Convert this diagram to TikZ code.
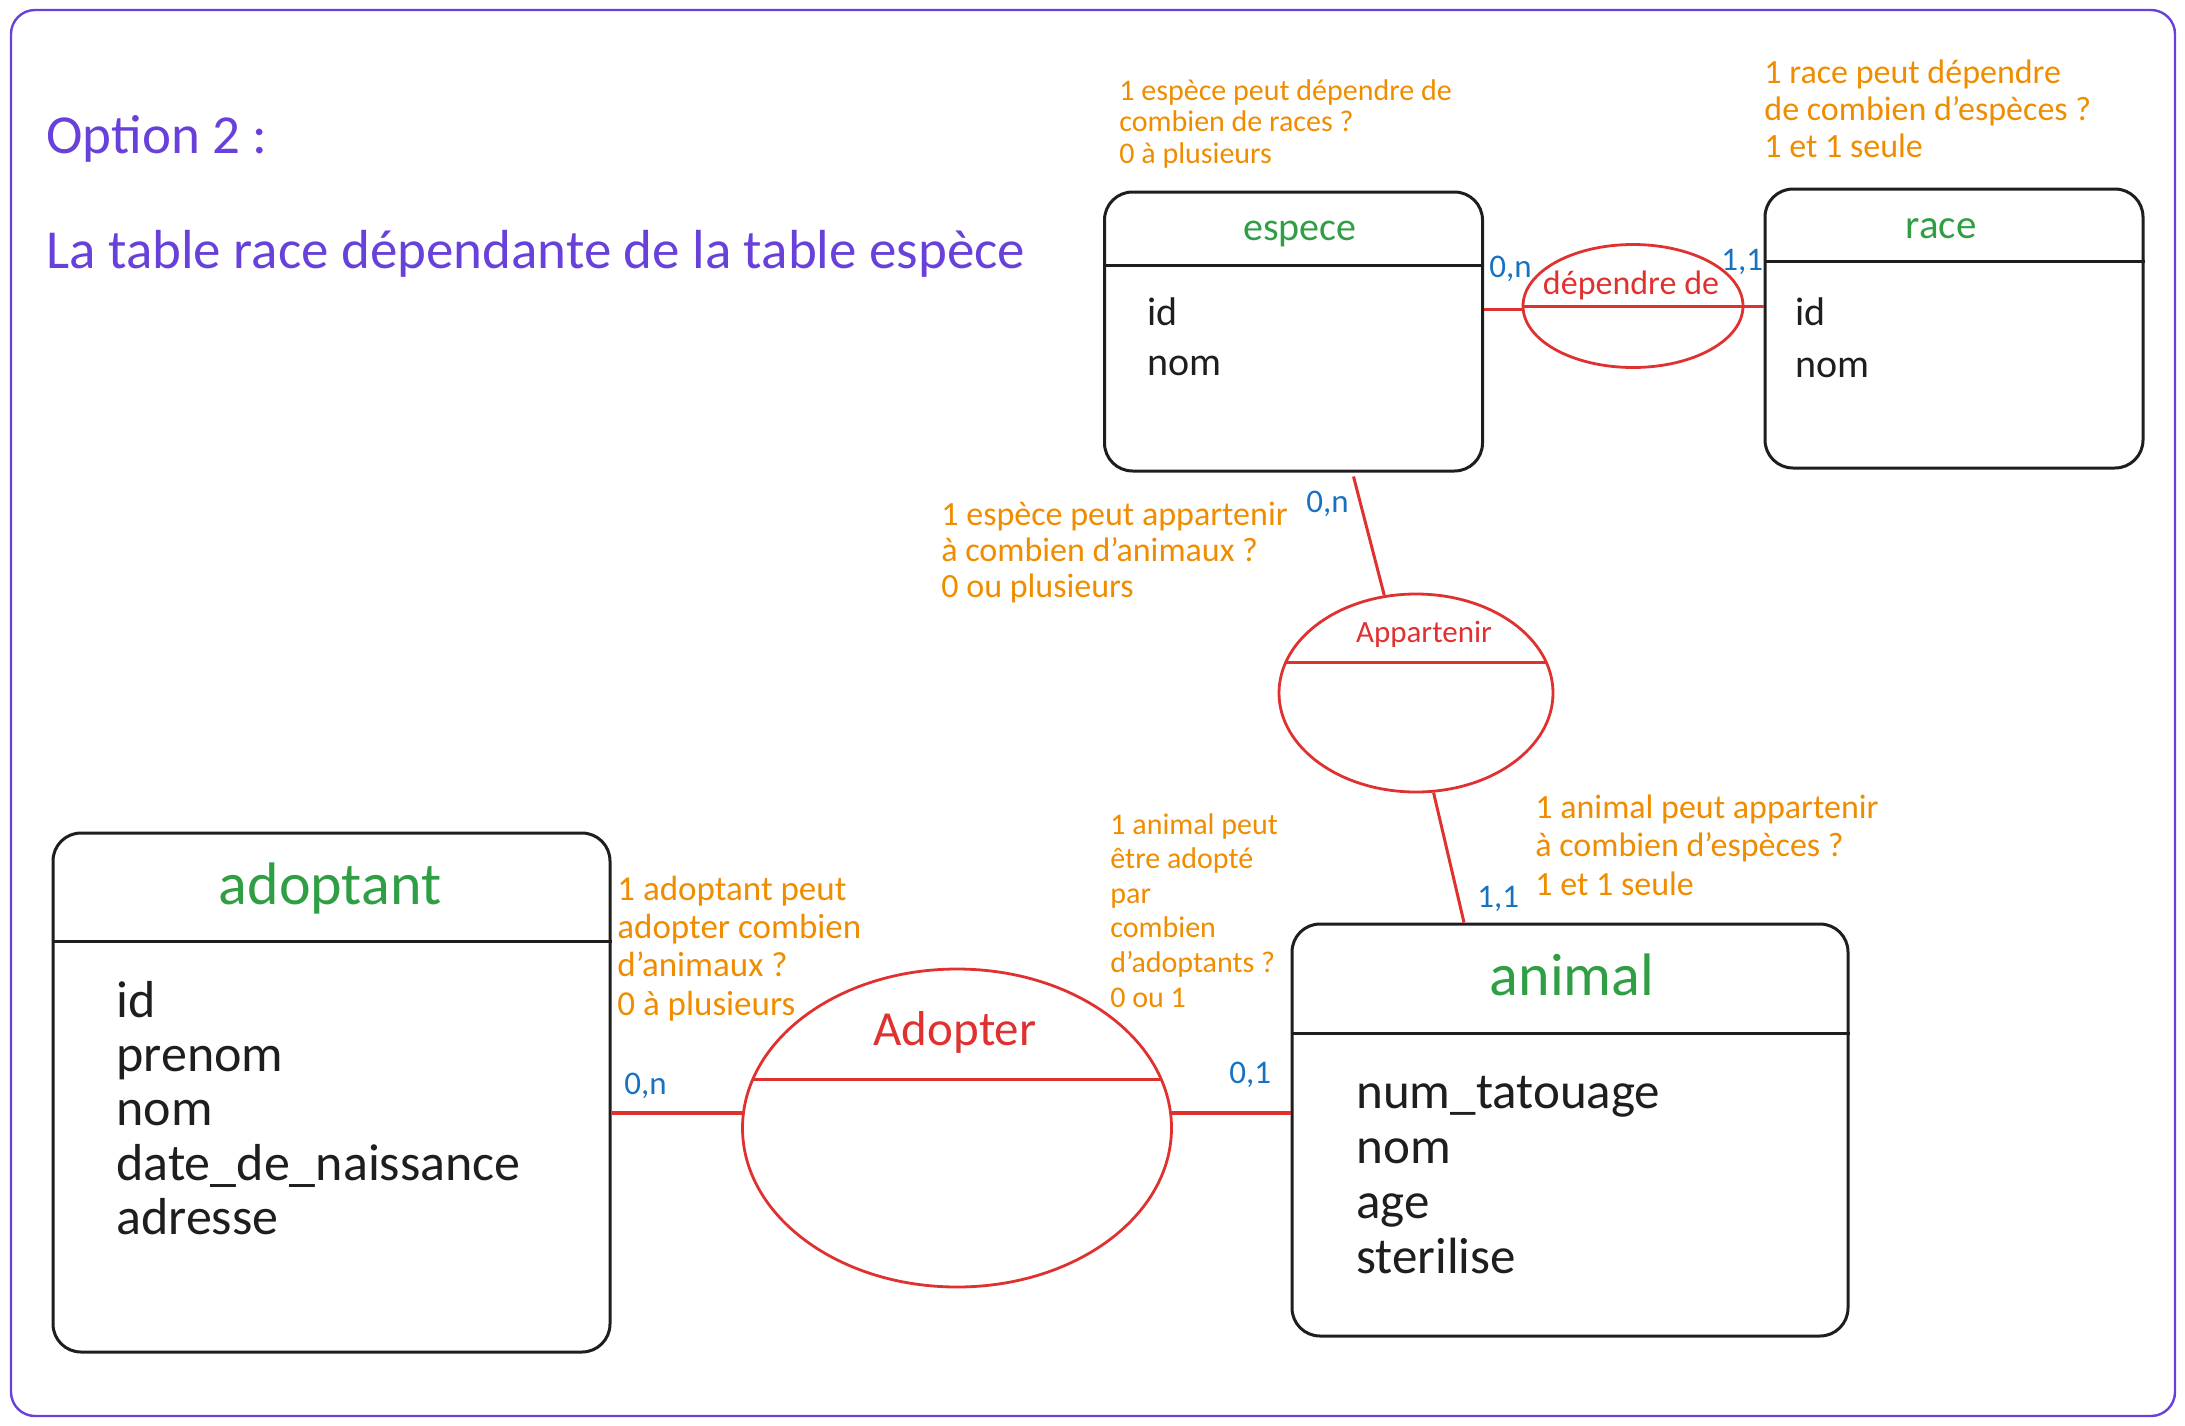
\documentclass[tikz,border=0pt]{standalone}
\usepackage{fontspec}
\setmainfont{Carlito}
\usetikzlibrary{shapes.geometric,calc}
\definecolor{violetc}{HTML}{6741D9}
\definecolor{greenc}{HTML}{2F9E44}
\definecolor{redc}{HTML}{E03131}
\definecolor{orangec}{HTML}{F08C00}
\definecolor{bluec}{HTML}{1971C2}
\definecolor{inkc}{HTML}{1E1E1E}
\newcommand\mylines[1]{\begin{tabular}[t]{@{}l@{}}#1\end{tabular}}
\tikzset{
  framebox/.style={draw=violetc, line width=1.2pt, rounded corners=12pt},
  tbl/.style={draw=inkc, line width=1.5pt, rounded corners=14pt, inner sep=0pt},
  hdr/.style={draw=inkc, line width=1.6pt},
  rel/.style={ellipse, draw=redc, line width=1.4pt, inner sep=0pt},
  conn/.style={draw=redc, line width=1.5pt},
  txt/.style={inner sep=0pt, anchor=base west},
  ttl/.style={inner sep=0pt, anchor=base, text=greenc},
  attr/.style={txt, text=inkc},
  card/.style={txt, text=bluec, font=\fontsize{16.5pt}{18pt}\selectfont},
  note/.style={txt, text=orangec},
  relname/.style={inner sep=0pt, anchor=base, text=redc},
  heading/.style={txt, text=violetc}
}
\begin{document}
\begin{tikzpicture}[x=0.5pt,y=-0.5pt]
\useasboundingbox (0,0) rectangle (2185,1425);
\draw[framebox] (11,10) rectangle (2175,1416);

% headings
\node[heading, font=\fontsize{27.5pt}{30pt}\selectfont] (opt) at (46,153) {Option 2 :};
\node[heading, font=\fontsize{27.5pt}{30pt}\selectfont] (sub) at (46,268) {La table race dépendante de la table espèce};

% tables
\node[tbl, minimum width=189pt, minimum height=139.5pt] (espece) at (1293.5,331.5) {};
\draw[hdr] ($(espece.north west)+(0,75)$) -- ($(espece.north east)+(0,75)$);
\node[ttl, font=\fontsize{20pt}{24pt}\selectfont] (especeT) at (1300,240) {espece};
\node[attr, font=\fontsize{20pt}{25pt}\selectfont] (especeA) at (1147,325) {\mylines{id\\nom}};

\node[tbl, minimum width=189pt, minimum height=139.5pt] (race) at (1954,328.5) {};
\draw[hdr] ($(race.north west)+(0,74)$) -- ($(race.north east)+(0,74)$);
\node[ttl, font=\fontsize{20.5pt}{24pt}\selectfont] (raceT) at (1941,238) {race};
\node[attr, font=\fontsize{20pt}{26pt}\selectfont] (raceA) at (1795,325) {\mylines{id\\nom}};

\node[tbl, minimum width=278.5pt, minimum height=259.5pt] (adoptant) at (331.5,1092.5) {};
\draw[hdr] ($(adoptant.north west)+(0,110)$) -- ($(adoptant.north east)+(0,110)$);
\node[ttl, font=\fontsize{30pt}{34pt}\selectfont] (adoptantT) at (330,904) {adoptant};
\node[attr, font=\fontsize{26pt}{27.2pt}\selectfont] (adoptantA) at (116,1017) {\mylines{id\\prenom\\nom\\date\_de\_naissance\\adresse}};

\node[tbl, minimum width=278pt, minimum height=206pt] (animal) at (1570,1130) {};
\draw[hdr] ($(animal.north west)+(0,111)$) -- ($(animal.north east)+(0,111)$);
\node[ttl, font=\fontsize{30pt}{34pt}\selectfont] (animalT) at (1572,995) {animal};
\node[attr, font=\fontsize{25.5pt}{27.5pt}\selectfont] (animalA) at (1356,1108) {\mylines{num\_tatouage\\nom\\age\\sterilise}};

% relations
\node[rel, minimum width=110pt, minimum height=61.5pt] (dep) at (1633,306) {};
\node[rel, minimum width=137pt, minimum height=99pt] (app) at (1416,693) {};
\node[rel, minimum width=214.5pt, minimum height=159pt] (adop) at (957,1128) {};

\draw[conn] (dep.west) -- (dep.west -| race.west);
\draw[conn] (espece.east |- dep.182) -- (dep.182);
\draw[conn] ($(app.center)+(-130,-31)$) -- ($(app.center)+(130,-31)$);
\draw[conn] ($(adop.center)+(-204,-49)$) -- ($(adop.center)+(204,-49)$);
\draw[conn] ($(espece.south)+(60,4)$) -- (app.108);
\draw[conn] (app.-80) -- ($(animal.north)+(-106,0)$);
\draw[conn, line width=1.9pt] (adoptant.east |- adop.176) -- (adop.176);
\draw[conn, line width=1.9pt] (adop.4) -- (adop.4 -| animal.west);

\node[relname, font=\fontsize{17pt}{20pt}\selectfont] (depT) at (1631,294) {dépendre de};
\node[relname, font=\fontsize{15.5pt}{18pt}\selectfont] (appT) at (1424,642) {Appartenir};
\node[relname, font=\fontsize{24.5pt}{28pt}\selectfont] (adopT) at (955,1045) {Adopter};

% cardinalities
\node[card] (c1) at (1489,277) {0,n};
\node[card] (c2) at (1721,270) {1,1};
\node[card] (c3) at (1306,512) {0,n};
\node[card] (c4) at (1477,907) {1,1};
\node[card] (c5) at (624,1094) {0,n};
\node[card] (c6) at (1229,1083) {0,1};

% notes
\node[note, font=\fontsize{15pt}{15.75pt}\selectfont] (n1) at (1119,100) {\mylines{1 espèce peut dépendre de\\combien de races ?\\0 à plusieurs}};
\node[note, font=\fontsize{17pt}{18.5pt}\selectfont] (n2) at (1764,83) {\mylines{1 race peut dépendre\\de combien d'espèces ?\\1 et 1 seule}};
\node[note, font=\fontsize{17pt}{18pt}\selectfont] (n3) at (941,525) {\mylines{1 espèce peut appartenir\\à combien d'animaux ?\\0 ou plusieurs}};
\node[note, font=\fontsize{17pt}{19.25pt}\selectfont] (n4) at (1535,818) {\mylines{1 animal peut appartenir\\à combien d'espèces ?\\1 et 1 seule}};
\node[note, font=\fontsize{17.5pt}{19.2pt}\selectfont] (n5) at (617,900) {\mylines{1 adoptant peut\\adopter combien\\d'animaux ?\\0 à plusieurs}};
\node[note, font=\fontsize{15pt}{17.3pt}\selectfont] (n6) at (1110,834) {\mylines{1 animal peut\\être adopté\\par\\combien\\d'adoptants ?\\0 ou 1}};
\end{tikzpicture}
\end{document}
